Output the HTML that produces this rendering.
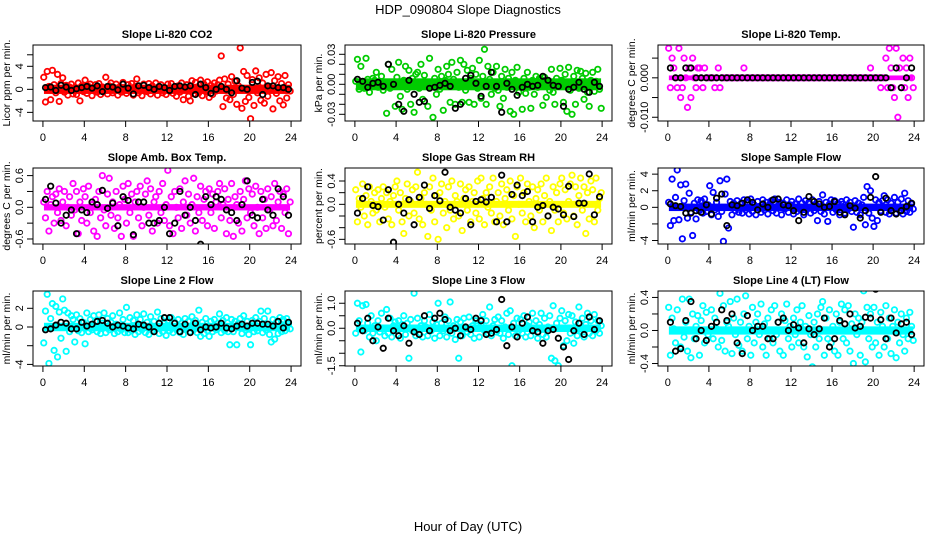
<!DOCTYPE html>
<html><head><meta charset="utf-8"><style>
html,body{margin:0;padding:0;background:#fff;}
svg{display:block;font-family:"Liberation Sans",sans-serif;}
</style></head><body>
<svg id="chart" width="936" height="540" viewBox="0 0 936 540" xmlns="http://www.w3.org/2000/svg">
<rect x="0" y="0" width="936" height="540" fill="#fff"/>
<text x="468" y="14" text-anchor="middle" font-size="13">HDP_090804  Slope Diagnostics</text>
<text x="468" y="531" text-anchor="middle" font-size="13">Hour of Day (UTC)</text>
</svg>
<script>
const xTicks = [0,4,8,12,16,20,24];
const titles = ["Slope Li-820 CO2","Slope Li-820 Pressure","Slope Li-820 Temp.","Slope Amb. Box Temp.","Slope Gas Stream RH","Slope Sample Flow","Slope Line 2 Flow","Slope Line 3 Flow","Slope Line 4 (LT) Flow"];
const yTitles = ["Licor ppm per min.","kPa per min.","degrees C per min.","degrees C per min.","percent per min.","ml/min per min.","ml/min per min.","ml/min per min.","ml/min per min."];
const colors = ["#ff0000","#00cc00","#ff00ff","#ff00ff","#ffff00","#0000ff","#00ffff","#00ffff","#00ffff"];
const yLimits = [[-5.5,7.7],[-36.7,39.3],[-4.38,3.33],[-0.695,0.744],[-0.68,0.623],[-4.42,4.74],[-4.17,3.85],[-1.51,1.49],[-0.43,0.478]];
const yUnits = [1,0.001,0.0025,1,1,1,1,1,1];
const bandHalf = [0.8,0.006,0.0006,0.06,0.06,0.45,0.45,0.15,0.05];
const yTickVals = [[-4,-2,0,2,4,6],[-0.03,-0.02,-0.01,0,0.01,0.02,0.03],[-0.01,-0.005,0,0.005],[-0.6,-0.3,0,0.3,0.6],[-0.6,-0.4,-0.2,0,0.2,0.4],[-4,-2,0,2,4],[-4,-2,0,2],[-1.5,-1,-0.5,0,0.5,1],[-0.4,-0.2,0,0.2,0.4]];
const yTickLabels = [["-4","","0","","4",""],["-0.03","","","0.00","","","0.03"],["-0.010","","0.000",""],["-0.6","","0.0","","0.6"],["-0.6","","","0.0","","0.4"],["-4","","0","2","4"],["-4","","0","2"],["-1.5","","","0.0","","1.0"],["-0.4","","0.0","","0.4"]];

const co2 = [2.1,-2.2,3.1,0.5,-1.8,3.3, 0.8,-0.6,2.6,-2.1,1.0,2.0, -0.5,0.7,-1.0,0.4,0.9,-0.8, 0.3,-0.9,1.1,-2.0,0.6,-0.4, 1.6,-0.7,0.5,0.9,-1.1,0.2, 0.8,-0.5,1.0,-0.9,0.4,-0.3, 2.1,-0.8,0.6,1.1,-0.6,0.3, 0.9,-1.0,0.4,-0.5,1.2,0.1, -0.7,0.8,-0.3,1.0,-1.0,0.5, 1.8,-0.6,0.3,-1.1,0.9,0.2, -0.4,1.0,-0.8,0.6,-0.2,1.1, -1.0,0.5,0.8,-0.6,0.2,-0.9, 0.9,-0.3,1.0,-0.7,0.4,-1.2, 0.6,-0.5,1.1,-1.8,0.3,0.8, -1.2,-2.0,1.5,-0.8,1.2,0.4, -0.6,1.6,-1.1,0.9,-0.4,1.3, -1.4,0.7,-0.9,1.1,-0.3,0.8, 1.6,5.8,-3.0,1.8,-1.5,0.9, -1.8,2.2,-0.9,1.4,-2.6,0.6, 7.2,-3.3,3.1,-2.1,2.4,-1.4, -5.1,1.7,-2.8,3.2,-0.6,2.0, -1.9,1.1,-2.4,2.6,-1.2,0.5, 2.9,-3.4,1.5,-0.7,2.2,-2.0, 1.0,-2.7,2.4,-1.5,0.8,-0.3];
const co2Avg = [0.3,0.4,-0.2,0.7,0.4,-0.2,0.1,0.3,0.5,0.2,0.6,-0.4,0.5,0.4,-0.1,0.9,0.2,-0.8,0.6,0.7,0.3,0.0,0.5,0.3,-0.2,0.5,0.6,0.4,0.6,-0.9,0.9,0.3,-0.7,0.0,0.5,0.0,-0.6,1.5,0.2,0.0,1.2,1.4,-0.9,0.6,0.6,0.3,0.3,0.0];
const pres = [3,25,-5,18,2,-4, 26,5,-8,-2,6,4, 12,-3,3,8,-6,2, -29,20,-4,15,1,-22, 7,22,-12,-25,4,18, -5,14,-20,6,-28,10, 12,-4,20,-15,9,-2, -22,26,2,-33,6,-10, 15,-5,8,-26,4,18, 10,-18,22,5,-20,12, -3,24,-18,20,-6,14, -18,6,16,-20,10,-4, 24,-14,8,35,-20,18, 5,-10,12,-4,18,-6, -22,8,-14,15,-3,6, -27,12,-30,4,17,-8, 2,-25,6,-9,12,-3, -24,4,-10,8,-3,6, 5,-21,7,-13,3,-6, 15,-8,-20,6,-2,16, 4,-18,10,-27,17,-6, -30,8,-20,14,-4,13, 6,-15,11,-8,-22,4, 12,-7,3,15,-5,-24];
const presAvg = [5,3,-3,1,2,-2,20,0,-20,-27,4,-10,-18,-17,-4,-3,-1,1,-2,-24,-20,6,9,1,-12,-2,12,-2,-28,1,-5,-11,-3,0,-2,-1,8,4,-1,-2,-22,-5,-3,2,-5,-8,2,-2];
const temp = [3,-1,2,1,0,-1, 3,-2,-1,2,0,-3, 1,-2,2,0,-1,1, 1,0,-1,1,0,0, 0,0,0,-1,0,1, -1,0,0,0,0,0, 0,0,0,0,0,0, 0,0,1,0,0,0, 0,0,0,0,0,0, 0,0,0,0,0,0, 0,0,0,0,0,0, 0,0,0,0,0,0, 0,0,0,0,0,0, 0,0,0,0,0,0, 0,0,0,0,0,0, 0,0,0,0,0,0, 0,0,0,0,0,0, 0,0,0,0,0,0, 0,0,0,0,0,0, 0,0,0,0,1,0, 0,0,0,0,-1,0, 0,2,-1,3,1,-1, -2,3,-4,1,-1,2, -1,1,-2,2,0,-1];
const tempAvg = [1,0,0,1,1,0,0,0,0,0,0,0,0,0,0,0,0,0,0,0,0,0,0,0,0,0,0,0,0,0,0,0,0,0,0,0,0,0,0,0,0,0,0,-1,1,-1,0,1];
const amb = [0.1,-0.2,0.3,-0.45,0.05,0.2, -0.3,0.25,-0.1,0.35,-0.25,0.1, 0.3,-0.35,0.0,0.2,-0.15,0.45, -0.05,0.3,-0.5,0.1,-0.25,0.35, 0.2,-0.3,0.4,-0.1,0.05,-0.45, 0.15,-0.55,0.3,-0.2,0.6,-0.05, -0.35,0.25,0.55,-0.15,0.1,-0.4, 0.3,-0.2,0.05,-0.55,0.4,0.15, -0.3,0.45,-0.1,0.25,-0.55,0.1, 0.3,-0.2,0.4,-0.35,0.0,0.25, 0.5,-0.15,0.35,-0.45,0.1,0.2, -0.3,0.3,-0.1,0.45,-0.25,0.05, 0.7,-0.35,0.2,-0.5,0.3,0.0, -0.2,0.35,-0.4,0.1,0.5,-0.15, 0.25,-0.3,0.05,0.55,-0.45,0.2, -0.1,0.4,-0.25,0.15,0.3,-0.35, 0.35,-0.1,0.25,-0.4,0.1,0.3, 0.45,-0.2,0.05,0.35,-0.5,0.15, -0.25,0.45,-0.55,0.2,0.05,-0.3, 0.3,-0.45,0.15,0.5,-0.2,0.35, -0.1,0.25,-0.35,0.4,0.0,-0.5, 0.3,-0.2,0.15,-0.4,0.35,-0.05, 0.2,-0.35,0.45,-0.25,0.1,0.3, -0.4,0.25,-0.1,0.35,-0.5,0.1];
const ambAvg = [0.15,0.4,0.08,-0.3,-0.15,-0.05,-0.5,-0.05,-0.1,0.1,0.05,0.32,-0.02,0.08,-0.35,0.2,0.13,-0.52,0.1,0.1,-0.3,-0.3,-0.25,0.0,-0.5,-0.3,0.3,-0.15,0.0,-0.25,-0.7,0.2,0.05,0.2,0.15,-0.05,-0.1,-0.25,0.05,0.5,-0.15,-0.2,0.15,-0.05,-0.15,0.35,0.2,-0.15];
const rh = [0.25,-0.3,0.1,-0.05,0.35,-0.2, 0.15,-0.35,0.3,0.05,-0.15,0.2, -0.1,0.25,-0.3,0.1,0.3,-0.05, 0.2,-0.25,0.05,-0.35,0.15,0.3, 0.4,-0.1,0.2,-0.3,-0.5,0.1, 0.35,-0.2,0.05,0.25,-0.15,0.3, 0.55,-0.25,0.1,-0.35,0.2,0.0, -0.55,0.3,-0.1,0.45,-0.3,0.15, -0.6,0.2,0.35,-0.15,0.05,-0.4, 0.3,-0.1,0.4,-0.25,0.15,0.05, -0.2,0.35,-0.45,0.1,0.25,-0.1, 0.3,-0.3,0.05,0.2,-0.15,0.4, -0.25,0.45,0.1,-0.35,0.2,-0.05, 0.3,-0.15,0.45,-0.3,0.05,0.2, -0.2,0.35,-0.35,0.1,0.25,-0.1, 0.4,-0.25,0.15,-0.55,0.3,0.0, 0.45,-0.15,0.2,-0.3,0.35,0.05, -0.2,0.3,-0.4,0.1,0.25,-0.1, 0.35,-0.3,0.15,0.45,-0.2,0.05, -0.45,0.3,-0.1,0.2,-0.3,0.35, 0.45,-0.15,0.25,-0.25,0.05,0.35, 0.5,-0.2,0.3,-0.35,0.15,0.45, -0.1,0.3,-0.5,0.2,-0.25,0.4, 0.25,-0.3,0.45,-0.1,0.1,0.2];
const rhAvg = [-0.15,0.1,0.3,-0.02,-0.04,-0.27,0.25,-0.65,0.0,-0.15,0.08,-0.35,0.12,0.33,-0.07,0.15,0.06,0.55,-0.05,-0.1,-0.15,0.1,-0.35,0.05,0.08,0.04,0.12,-0.3,0.5,-0.3,0.17,0.33,0.15,0.22,-0.3,-0.05,-0.02,-0.2,-0.05,-0.08,-0.18,0.31,-0.21,0.02,0.02,0.52,-0.18,0.13];
const sflow = [0.6,-2.2,3.4,-1.6,1.2,4.5, -1.5,2.7,-3.8,0.8,2.8,-1.3, 1.7,-0.6,-3.4,0.5,-1.4,0.9, -0.4,0.8,-0.7,1.0,-0.5,0.3, 2.6,-0.9,1.8,-0.3,0.6,-1.1, 3.2,-0.5,-4.1,1.6,3.4,-2.5, 0.7,-0.9,0.5,-0.4,0.8,-0.6, 0.4,-0.7,0.9,-0.3,0.6,-0.8, 1.0,-0.5,0.3,-0.9,0.7,0.1, -0.6,0.9,-0.3,0.6,-0.8,0.4, 0.8,-0.4,1.0,-0.7,0.2,0.6, -0.9,0.5,-0.2,0.9,-0.6,0.3, 0.7,-0.8,0.4,-0.5,1.0,-0.3, 0.5,-0.9,0.8,-0.2,0.6,-0.7, 0.9,-0.4,0.3,-1.6,0.7,-0.5, 1.5,-0.8,0.6,-1.7,0.4,0.9, -0.6,0.8,-0.3,0.5,-0.9,0.7, 0.4,-0.7,0.9,-0.2,0.6,-0.5, -2.4,0.8,-0.6,0.5,-0.9,0.3, 1.2,-2.1,2.5,-0.7,2.0,-1.3, -2.3,0.9,-1.6,0.6,-0.4,0.8, 1.4,-0.6,0.9,-0.8,0.5,-0.3, 1.2,-0.7,0.6,-0.4,1.0,-0.8, 1.7,-0.5,0.8,-0.6,0.4,-0.2];
const sflowAvg = [0.4,0.2,0.1,-0.7,-0.7,-0.4,-0.6,0.3,-0.8,1.1,1.6,-2.2,0.3,0.2,0.5,0.9,0.6,-0.3,0.4,0.0,0.9,1.0,0.3,0.2,-0.4,-1.6,-0.6,1.3,0.7,0.4,0.0,0.1,0.7,-0.6,-0.9,0.2,-0.1,-1.3,-0.4,1.2,3.7,-0.6,1.1,-0.4,-0.8,-0.4,0.1,0.5];
const line2 = [-1.7,1.7,3.5,-3.9,0.9,2.5, -2.5,2.2,-3.2,1.6,-1.2,3.0, 1.8,-2.6,1.5,-0.5,1.2,0.8, -1.6,1.3,-0.4,0.9,-0.6,0.5, -1.8,1.5,-0.5,0.8,-0.3,1.2, 0.6,-0.5,1.3,-0.7,0.4,1.5, -0.6,0.9,-0.3,0.5,1.2,-0.7, 0.3,-0.5,1.5,-0.3,0.8,-0.6, 2.1,-0.6,1.0,-0.4,0.7,-0.8, 1.3,-0.5,0.8,-0.3,1.4,-0.6, 0.5,-0.8,1.1,-0.4,0.6,-0.2, 1.6,-0.7,0.9,-0.5,0.4,-0.9, 0.7,-0.4,1.0,-0.6,0.5,-0.3, 0.8,-0.6,0.4,-0.8,0.9,-0.2, 0.6,-0.5,1.1,-0.3,0.7,-0.6, 1.8,-1.0,0.5,-0.7,0.9,-0.4, -1.0,0.6,-0.5,0.8,-0.3,0.4, 1.4,-0.6,0.7,-0.4,1.0,-0.5, -1.9,0.8,-0.5,0.6,-1.9,0.4, 0.9,-0.7,1.2,-0.3,0.6,-0.8, -1.9,0.7,-0.5,1.0,-0.4,0.6, 1.7,-0.6,0.9,-0.3,1.7,-0.8, -1.6,0.8,-1.3,0.5,-0.7,1.0, -0.5,0.8,-0.4,0.9,0.3,-0.2];
const line2Avg = [-0.3,-0.2,0.2,0.5,0.4,-0.2,-0.2,0.5,0.1,0.3,0.6,0.7,0.4,0.0,0.2,0.1,-0.1,-0.2,0.3,0.2,0.0,-0.5,0.4,1.0,1.0,0.4,-0.5,0.3,-0.6,0.4,-0.3,0.0,-0.1,0.0,0.4,-0.1,-0.2,0.1,0.3,0.1,0.4,0.4,0.3,0.3,0.1,0.6,-0.1,0.5];
const line3 = [-0.2,1.0,0.3,-0.95,0.9,-0.1, 0.95,0.2,-0.35,0.5,-0.2,0.1, -0.5,0.3,-0.15,0.6,0.0,-0.3, 0.75,-0.2,0.4,-0.35,0.1,0.25, -0.1,0.3,-0.4,0.15,0.5,-0.25, 0.2,-1.2,0.35,-0.1,1.4,-0.3, 0.4,-0.2,0.1,-0.35,0.3,0.05, -0.3,0.55,-0.1,0.25,-0.4,0.15, 1.0,-0.3,0.2,-0.1,0.45,-0.35, 0.3,1.05,-0.2,0.1,-0.45,0.35, -1.2,0.25,-0.3,0.4,0.05,-0.15, 0.45,-0.25,0.1,-0.4,0.3,0.2, -0.35,0.15,0.55,-0.1,0.3,-0.2, 0.85,-0.3,0.1,0.35,-0.15,0.45, -0.2,0.3,-0.4,0.05,0.6,-0.25, 0.7,-1.5,0.2,-0.3,0.4,-0.1, 0.35,-0.2,0.5,-0.35,0.1,0.25, -0.3,0.6,-0.1,0.3,-0.4,0.15, 0.6,-0.25,0.4,-0.35,0.05,0.5, -1.2,0.9,-1.3,0.2,-1.5,0.4, 0.7,-0.7,0.3,-0.5,0.55,-0.2, 0.5,-0.6,0.25,-0.3,0.85,-0.1, 0.4,-0.35,0.15,0.6,-0.2,0.3, -0.3,0.55,-0.1,0.3,-0.2,0.1];
const line3Avg = [0.2,-0.1,0.4,-0.5,0.05,-0.8,0.4,-0.1,-0.3,0.1,-0.6,-0.15,-0.25,0.5,-0.1,0.4,0.6,0.35,-0.1,0.0,-0.3,0.05,-0.05,0.4,0.3,-0.25,-0.2,-0.05,1.15,-0.7,0.05,-0.35,0.2,0.45,-0.1,-0.15,-0.6,-0.1,-0.05,-0.4,-0.75,-1.25,-0.1,0.2,-0.25,0.45,-0.05,0.3];
const line4 = [0.28,-0.3,0.15,0.02,-0.15,0.25, 0.53,-0.2,0.38,-0.08,0.1,-0.25, 0.38,-0.33,0.2,-0.1,0.05,0.18, -0.3,0.12,0.3,-0.15,0.22,-0.05, -0.48,0.25,-0.1,0.15,0.02,-0.2, 0.45,-0.12,0.3,-0.25,0.1,0.05, 0.35,-0.28,0.15,-0.05,0.38,-0.18, 0.1,-0.25,0.2,0.42,-0.1,0.05, -0.3,0.28,-0.15,0.1,0.2,-0.05, 0.32,-0.2,0.08,-0.3,0.15,-0.1, 0.25,-0.15,0.3,-0.05,0.1,-0.25, 0.2,-0.3,0.12,0.32,-0.1,0.05, -0.2,0.15,-0.05,0.25,-0.15,0.1, 0.3,-0.2,0.05,-0.32,0.18,-0.05, -0.44,0.1,-0.2,0.2,-0.1,0.28, 0.35,-0.3,0.15,-0.1,0.25,-0.15, 0.05,-0.25,0.2,-0.3,0.1,0.32, -0.1,0.25,-0.15,0.3,-0.25,0.08, -0.4,0.2,-0.05,0.15,-0.3,0.1, 0.48,-0.38,0.28,-0.1,0.2,-0.2, 0.28,-0.15,0.1,-0.3,0.22,0.05, -0.2,0.3,-0.1,0.15,-0.28,0.05, 0.25,-0.33,0.1,-0.15,0.2,-0.05, -0.25,0.15,-0.1,0.22,0.05,-0.12];
const line4Avg = [0.1,-0.25,-0.22,0.12,0.35,-0.1,0.0,-0.12,0.05,0.1,0.25,0.12,0.2,-0.15,-0.28,0.18,0.0,0.05,0.05,-0.1,-0.1,0.1,0.15,0.0,0.07,0.03,-0.15,0.02,-0.05,0.02,0.15,-0.2,-0.1,0.12,0.08,0.2,0.03,0.05,0.16,0.15,0.5,0.13,-0.1,0.15,-0.03,0.08,0.1,-0.05];

const seriesList = [co2,pres,temp,amb,rh,sflow,line2,line3,line4];
const avgList = [co2Avg,presAvg,tempAvg,ambAvg,rhAvg,sflowAvg,line2Avg,line3Avg,line4Avg];
const panelNames = ["co2","pressure","licor-temp","amb-box-temp","gas-stream-rh","sample-flow","line2-flow","line3-flow","line4-flow"];

const NS = "http://www.w3.org/2000/svg";
const svg = document.getElementById("chart");
const cols = [[33,301],[345,612],[658,924]];
const rows = [[45,121],[168,244],[291,366]];
function mk(tag, attrs, parent){const e=document.createElementNS(NS,tag);for(const k in attrs)e.setAttribute(k,attrs[k]);(parent||svg).appendChild(e);return e;}

for(let p=0;p<9;p++){
  const [x0,x1]=cols[p%3], [y0,y1]=rows[Math.floor(p/3)];
  const [lo,hi]=yLimits[p], u=yUnits[p];
  const xs = h => x0 + (h+0.96)/25.92*(x1-x0);
  const ys = v => y1 - (v/u - lo)/(hi-lo)*(y1-y0);
  const g = mk("g",{});
  
  
  const clip = mk("clipPath",{id:"c"+p},g);
  mk("rect",{x:x0,y:y0,width:x1-x0,height:y1-y0},clip);
  const pts = mk("g",{"clip-path":"url(#c"+p+")"},g);
  
  
  const band = mk("rect",{x:xs(0.1),y:ys(bandHalf[p]),width:xs(23.9)-xs(0.1),height:ys(-bandHalf[p])-ys(bandHalf[p]),fill:colors[p]},pts);
  
  
  const s = seriesList[p];
  s.forEach((v,i)=>{
    const c = mk("circle",{cx:xs(i*24/s.length+0.08),cy:ys(v*u),r:2.7,fill:"none",stroke:colors[p],"stroke-width":1.8},pts);
    
    
  });
  const a = avgList[p];
  a.forEach((v,i)=>{
    const c = mk("circle",{cx:xs(i*24/a.length+0.25),cy:ys(v*u),r:2.7,fill:"none",stroke:"#000","stroke-width":1.8},pts);
    
    
  });
  const box = mk("rect",{x:x0,y:y0,width:x1-x0,height:y1-y0,fill:"none",stroke:"#000","stroke-width":1},g);
  
  
  const t = mk("text",{x:(x0+x1)/2,y:y0-7,"text-anchor":"middle","font-size":11,"font-weight":"bold"},g);
  t.textContent = titles[p];
  
  
  const xa = mk("g",{},g);
  
  
  mk("line",{x1:xs(xTicks[0]),x2:xs(xTicks[xTicks.length-1]),y1:y1,y2:y1,stroke:"#000"},xa);
  xTicks.forEach(h=>{
    mk("line",{x1:xs(h),x2:xs(h),y1:y1,y2:y1+6,stroke:"#000"},xa);
    const tl = mk("text",{x:xs(h),y:y1+20,"text-anchor":"middle","font-size":11},xa);
    tl.textContent = String(h);
    
    
  });
  const ya = mk("g",{},g);
  
  
  const tv = yTickVals[p];
  mk("line",{x1:x0,x2:x0,y1:ys(tv[0]),y2:ys(tv[tv.length-1]),stroke:"#000"},ya);
  tv.forEach((v,i)=>{
    const yy = ys(v);
    mk("line",{x1:x0-6,x2:x0,y1:yy,y2:yy,stroke:"#000"},ya);
    if(yTickLabels[p][i]){
      const tl = mk("text",{x:x0-10,y:yy,"text-anchor":"middle","font-size":11,transform:"rotate(-90 "+(x0-10)+" "+yy+")"},ya);
      tl.textContent = yTickLabels[p][i];
      
      
    }
  });
  const yt = mk("text",{x:x0-23,y:(y0+y1)/2,"text-anchor":"middle","font-size":10.5,transform:"rotate(-90 "+(x0-23)+" "+((y0+y1)/2)+")"},g);
  yt.textContent = yTitles[p];
  
  
}
</script>
</body></html>
